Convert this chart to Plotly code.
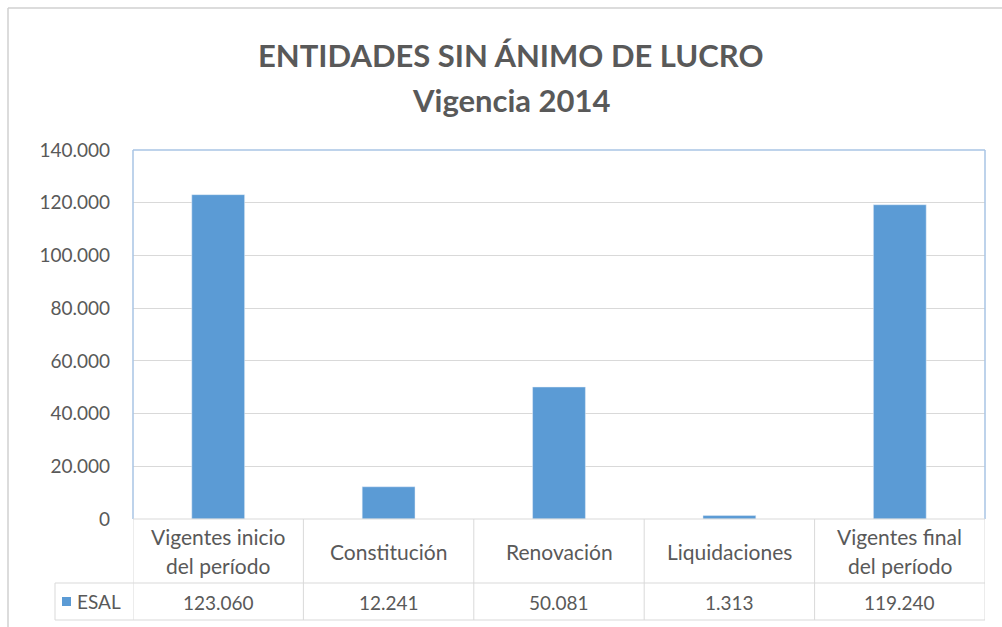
import plotly.graph_objects as go

title_line1 = "ENTIDADES SIN ÁNIMO DE LUCRO"
title_line2 = "Vigencia 2014"
categories = ["Vigentes inicio\ndel período", "Constitución", "Renovación", "Liquidaciones", "Vigentes final\ndel período"]
series_name = "ESAL"
values = [123060, 12241, 50081, 1313, 119240]
y_ticks = [0, 20000, 40000, 60000, 80000, 100000, 120000, 140000]

BAR = "#5B9BD5"
TXT = "#595959"
GRID = "#D9D9D9"
BORDER = "#A9C4E4"
FONT = "Lato, 'Open Sans', sans-serif"

# layout geometry (pixels)
W, H = 1002, 627
L, R, T, B = 133, 17, 150, 108
pw, ph = W - L - R, H - T - B
def px_x(px):
    return (px - L) / pw
def px_y(py):
    return (H - B - py) / ph

xs = list(range(len(categories)))
fig = go.Figure(go.Bar(x=xs, y=values, marker_color=BAR, width=0.31, name=series_name, showlegend=False))

shapes = []
ann = []
# plot area border (top/left/right)
for (x0, x1, y0, y1) in [(0, 0, 0, 1), (0, 1, 1, 1), (1, 1, 0, 1)]:
    shapes.append(dict(type="line", xref="paper", yref="paper", x0=x0, x1=x1, y0=y0, y1=y1, line=dict(color=BORDER, width=1.5)))

# data table lines
row1_bottom = px_y(583)
row2_bottom = px_y(620)
legend_left = px_x(55)
shapes.append(dict(type="line", xref="paper", yref="paper", x0=0, x1=1, y0=0, y1=0, line=dict(color=GRID, width=1)))
shapes.append(dict(type="line", xref="paper", yref="paper", x0=legend_left, x1=1, y0=row1_bottom, y1=row1_bottom, line=dict(color=GRID, width=1)))
shapes.append(dict(type="line", xref="paper", yref="paper", x0=legend_left, x1=1, y0=row2_bottom, y1=row2_bottom, line=dict(color=GRID, width=1)))
shapes.append(dict(type="line", xref="paper", yref="paper", x0=legend_left, x1=legend_left, y0=row1_bottom, y1=row2_bottom, line=dict(color=GRID, width=1)))
for i in range(len(categories) + 1):
    xb = i - 0.5
    shapes.append(dict(type="line", xref="x", yref="paper", x0=xb, x1=xb, y0=0, y1=row2_bottom, line=dict(color=GRID, width=1)))

# outer chart border
shapes.append(dict(type="line", xref="paper", yref="paper", x0=px_x(8), x1=px_x(8), y0=px_y(8), y1=px_y(627), line=dict(color="#D0D0D0", width=1.5)))
shapes.append(dict(type="line", xref="paper", yref="paper", x0=px_x(8), x1=px_x(1002), y0=px_y(8), y1=px_y(8), line=dict(color="#D0D0D0", width=1.5)))

# legend key
shapes.append(dict(type="rect", xref="paper", yref="paper", x0=px_x(62), x1=px_x(71), y0=px_y(597), y1=px_y(606), fillcolor=BAR, line=dict(width=0)))
ann.append(dict(xref="paper", yref="paper", x=px_x(75), y=px_y(601.5), text=series_name, showarrow=False,
                xanchor="left", yanchor="middle", font=dict(size=19, color=TXT, family=FONT)))

# category labels
row1_mid = px_y(551)
for i, c in enumerate(categories):
    lines = c.split("\n")
    n = len(lines)
    for j, line in enumerate(lines):
        ann.append(dict(xref="x", yref="paper", x=i, y=row1_mid, text=line, showarrow=False,
                        xanchor="center", yanchor="middle", yshift=-(j - (n - 1) / 2) * 29,
                        font=dict(size=21, color=TXT, family=FONT)))
# values row
row2_mid = px_y(602)
for i, v in enumerate(values):
    ann.append(dict(xref="x", yref="paper", x=i, y=row2_mid, text=f"{v:,}".replace(",", "."), showarrow=False,
                    xanchor="center", yanchor="middle", font=dict(size=19, color=TXT, family=FONT)))

# title
ann.append(dict(xref="paper", yref="paper", x=px_x(511), y=px_y(55), text=f"<b>{title_line1}</b>", showarrow=False,
                xanchor="center", yanchor="middle", font=dict(size=31, color=TXT, family=FONT)))
ann.append(dict(xref="paper", yref="paper", x=px_x(511), y=px_y(100), text=f"<b>{title_line2}</b>", showarrow=False,
                xanchor="center", yanchor="middle", font=dict(size=31, color=TXT, family=FONT)))

fig.update_layout(
    width=W, height=H,
    margin=dict(l=L, r=R, t=T, b=B, autoexpand=False),
    paper_bgcolor="white", plot_bgcolor="white",
    separators=",.",
    shapes=shapes, annotations=ann,
    hovermode=False,
    xaxis=dict(range=[-0.5, len(categories) - 0.5], showticklabels=False, showgrid=False, zeroline=False, showline=False, fixedrange=True),
    yaxis=dict(range=[0, 140000], tickvals=y_ticks, tickformat=",d", showgrid=True, gridcolor=GRID, gridwidth=1,
               zeroline=False, showline=False, ticks="", ticklabelstandoff=22, fixedrange=True,
               tickfont=dict(size=19, color=TXT, family=FONT)),
    font=dict(family=FONT, color=TXT),
)

fig.write_html("out.html", config={"displayModeBar": False},
               post_script="document.body.style.margin='0';document.body.style.overflow='hidden';")
